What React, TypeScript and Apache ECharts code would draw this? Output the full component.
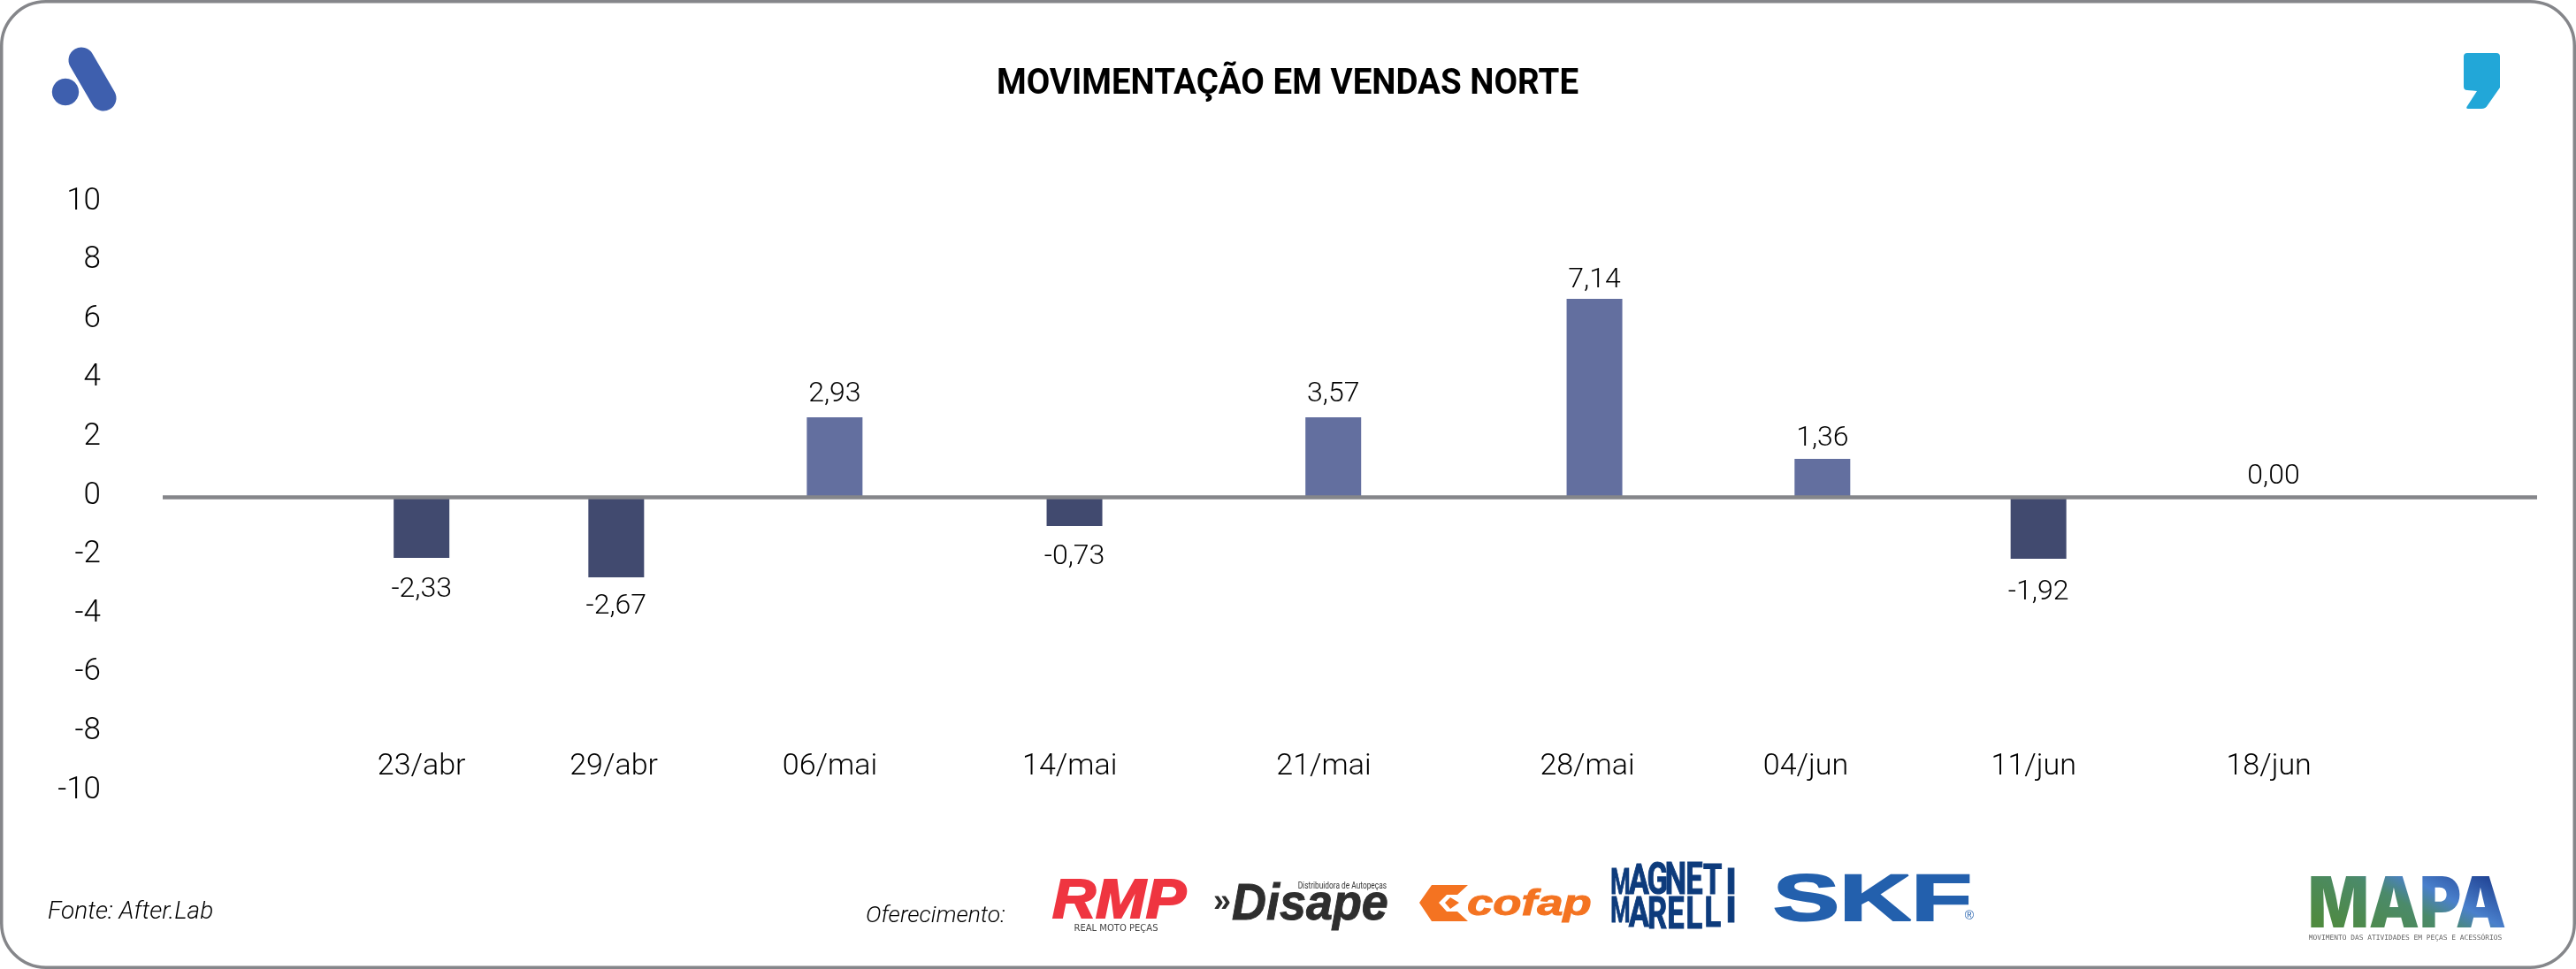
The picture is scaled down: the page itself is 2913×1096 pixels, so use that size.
import React, { useEffect, useRef } from "react";
import * as echarts from "echarts";

const categories = ["23/abr", "29/abr", "06/mai", "14/mai", "21/mai", "28/mai", "04/jun", "11/jun", "18/jun"];
// Printed labels of the reference
const valueLabels = ["-2,33", "-2,67", "2,93", "-0,73", "3,57", "7,14", "1,36", "-1,92", "0,00"];
// Bar lengths as drawn in the reference, read against its y axis (they differ from the printed labels)
const barHeights = [-2.07, -2.73, 2.7, -0.99, 2.7, 6.73, 1.29, -2.1, 0];
// The reference spaces its bars and date labels unevenly: places on a 0-10 horizontal scale
const barSlots = [1.09, 1.91, 2.83, 3.84, 4.93, 6.03, 6.99, 7.9, 8.89];
const dateSlots = [1.09, 1.9, 2.81, 3.82, 4.89, 6.0, 6.92, 7.88, 8.87];

const FONT = "Roboto, sans-serif";
const labelGaps = [17, 14, 13, 16, 13, 8, 10, 19, 10];
const MAGNETI = "MAGNETI".split("");
const MARELLI = "MARELLI".split("");

const commaPath =
  "M2790 60 L2823 60 Q2827 60 2827 64 L2827 99 L2813 119 Q2811 123 2806 123 L2791 123 Q2788 123 2790 120 L2801 103 L2790 102 Q2786 102 2786 98 L2786 64 Q2786 60 2790 60 Z";
const cofapPath =
  "M1619 1001 L1660 1001 L1648 1012 L1636 1012 L1627 1021 L1636 1031 L1648 1031 L1660 1042 L1619 1042 L1605 1021 Z M1640 1015 L1650 1021 L1640 1028 L1634 1021 Z";

function ovalLetters(letters: string[], upper: boolean) {
  const cx = 1895, cy = 1013, rx = 73, ry = 37, gapY = 1.5;
  const step = (rx * 2) / letters.length;
  return letters.map((ch, i) => {
    const lx = cx - rx + step * (i + 0.5);
    const d = Math.abs(lx - cx) / rx;
    const edge = ry * Math.pow(1 - Math.pow(d, 4), 0.25);
    const h = Math.max(edge - gapY, 22);
    const cyL = upper ? cy - gapY - h / 2 : cy + gapY + h / 2;
    const sx = ch === "M" ? 0.85 : ch === "I" ? 1.5 : 1.15;
    return {
      type: "text", x: lx, y: cyL, scaleX: sx, scaleY: h / 21.3,
      style: { text: ch, fill: "#0d3b7c", stroke: "#0d3b7c", lineWidth: 0.7, font: `bold 30px ${FONT}`, textAlign: "center", textVerticalAlign: "middle" },
    };
  });
}

export default function App() {
  const ref = useRef<HTMLDivElement>(null);
  useEffect(() => {
    document.body.style.margin = "0";
    echarts.graphic.registerShape("commaLogo", echarts.graphic.extendPath(commaPath, {}));
    echarts.graphic.registerShape("cofapLogo", echarts.graphic.extendPath(cofapPath, {}));
    const chart = echarts.init(ref.current!, undefined, { renderer: "svg" });
    chart.setOption({
      animation: false,
      backgroundColor: "#ffffff",
      grid: { left: 184, right: 44, top: 229, bottom: 201 },
      xAxis: {
        type: "value", min: 0, max: 10,
        axisLine: { show: false }, axisTick: { show: false }, splitLine: { show: false },
        axisLabel: {
          customValues: dateSlots, inside: true, margin: 14, color: "#000", fontSize: 34, fontWeight: 300, fontFamily: FONT,
          formatter: (v: number) => categories[dateSlots.indexOf(v)] ?? "",
        },
      },
      yAxis: {
        type: "value", min: -10, max: 10, interval: 2,
        axisLine: { show: false }, axisTick: { show: false }, splitLine: { show: false },
        axisLabel: { color: "#000", fontSize: 35, fontWeight: 300, fontFamily: FONT, margin: 70, verticalAlign: "bottom", lineHeight: 8 },
      },
      series: [{
        type: "bar", barWidth: 63, silent: true,
        data: barHeights.map((h, i) => ({
          value: [barSlots[i], h],
          itemStyle: { color: h < 0 ? "#414a6f" : "#636f9f" },
          label: {
            show: true, position: h < 0 ? "bottom" : "top", distance: labelGaps[i],
            formatter: valueLabels[i], color: "#000", fontSize: 32, fontWeight: 300, fontFamily: FONT,
          },
        })),
        markLine: {
          silent: true, symbol: "none", label: { show: false }, animation: false,
          lineStyle: { color: "#85868a", width: 4.5, type: "solid" },
          data: [{ yAxis: 0 }],
        },
      }],
      graphic: [
        { type: "rect", silent: true, shape: { x: 1.75, y: 1.75, width: 2909.5, height: 1092.5, r: 50 }, style: { fill: "none", stroke: "#85868a", lineWidth: 3.5 } },
        { type: "text", x: 1456, y: 92, scaleX: 0.94, style: { text: "MOVIMENTAÇÃO EM VENDAS NORTE", fill: "#000", font: `bold 41px ${FONT}`, textAlign: "center", textVerticalAlign: "middle" } },
        { type: "circle", shape: { cx: 74, cy: 104, r: 15.2 }, style: { fill: "#3e5fae" } },
        { type: "line", shape: { x1: 92, y1: 68, x2: 117, y2: 111 }, style: { stroke: "#3e5fae", lineWidth: 29, lineCap: "round" } },
        { type: "commaLogo", style: { fill: "#22a7d8" } },
        { type: "text", x: 54, y: 1029, style: { text: "Fonte: After.Lab", fill: "#000", font: `italic 300 28px ${FONT}`, textAlign: "left", textVerticalAlign: "middle" } },
        { type: "text", x: 979, y: 1033, style: { text: "Oferecimento:", fill: "#000", font: `italic 300 26.5px ${FONT}`, textAlign: "left", textVerticalAlign: "middle" } },
        // RMP
        { type: "text", x: 1190, y: 1016, scaleX: 1.08, style: { text: "RMP", fill: "#ef3540", stroke: "#ef3540", lineWidth: 2, font: "italic bold 63px 'Liberation Sans', sans-serif", textAlign: "left", textVerticalAlign: "middle" } },
        { type: "text", x: 1262, y: 1049, style: { text: "REAL MOTO PEÇAS", fill: "#444", font: "10px 'DejaVu Sans', sans-serif", textAlign: "center", textVerticalAlign: "middle" } },
        // Disape
        { type: "text", x: 1372, y: 1018, style: { text: "»", fill: "#2e2e2e", font: "bold 36px 'Liberation Sans', sans-serif", textAlign: "left", textVerticalAlign: "middle" } },
        { type: "text", x: 1393, y: 1020, scaleX: 0.93, style: { text: "Disape", fill: "#2e2e2e", stroke: "#2e2e2e", lineWidth: 1, font: "italic bold 58px 'Liberation Sans', sans-serif", textAlign: "left", textVerticalAlign: "middle" } },
        { type: "text", x: 1568, y: 1001, scaleX: 0.76, style: { text: "Distribuidora de Autopeças", fill: "#333", font: `11px ${FONT}`, textAlign: "right", textVerticalAlign: "middle" } },
        // cofap
        { type: "cofapLogo", style: { fill: "#f47321" } },
        { type: "text", x: 1659, y: 1021, scaleX: 1.32, style: { text: "cofap", fill: "#f47321", stroke: "#f47321", lineWidth: 1, font: "italic bold 40px 'Liberation Sans', sans-serif", textAlign: "left", textVerticalAlign: "middle" } },
        // Magneti Marelli
        ...ovalLetters(MAGNETI, true),
        ...ovalLetters(MARELLI, false),
        // SKF
        { type: "text", x: 2005, y: 1015, scaleX: 1.5, style: { text: "SKF", fill: "#2360ad", stroke: "#2360ad", lineWidth: 2, font: "bold 75px 'Liberation Sans', sans-serif", textAlign: "left", textVerticalAlign: "middle" } },
        { type: "text", x: 2227, y: 1035, style: { text: "®", fill: "#2360ad", font: "14px 'Liberation Sans', sans-serif", textAlign: "center", textVerticalAlign: "middle" } },
        // MAPA: black real text, coloured by the gradient rectangle blended over it with "screen"
        { type: "text", x: 2610, y: 1020, scaleX: 0.9, style: { text: "MAPA", fill: "#000", font: "900 80px Inter, sans-serif", textAlign: "left", textVerticalAlign: "middle" } },
        { type: "rect", shape: { x: 2605, y: 985, width: 232, height: 70 }, style: {
          fill: new echarts.graphic.LinearGradient(0, 0.7, 1, 0.15, [
            { offset: 0, color: "#4f8a3f" }, { offset: 0.45, color: "#4b8a6a" }, { offset: 0.65, color: "#4a80cc" }, { offset: 1, color: "#1a3a8c" },
          ]),
        } },
        { type: "text", x: 2720, y: 1060, style: { text: "MOVIMENTO DAS ATIVIDADES EM PEÇAS E ACESSÓRIOS", fill: "#666", font: "7.9px 'DejaVu Sans Mono', monospace", textAlign: "center", textVerticalAlign: "middle" } },
      ],
    });
    const gradientRect = ref.current!.querySelector('svg [fill^="url("]') as SVGElement | null;
    if (gradientRect) gradientRect.style.mixBlendMode = "screen";
    return () => chart.dispose();
  }, []);
  return <div ref={ref} style={{ width: 2913, height: 1096 }} />;
}
